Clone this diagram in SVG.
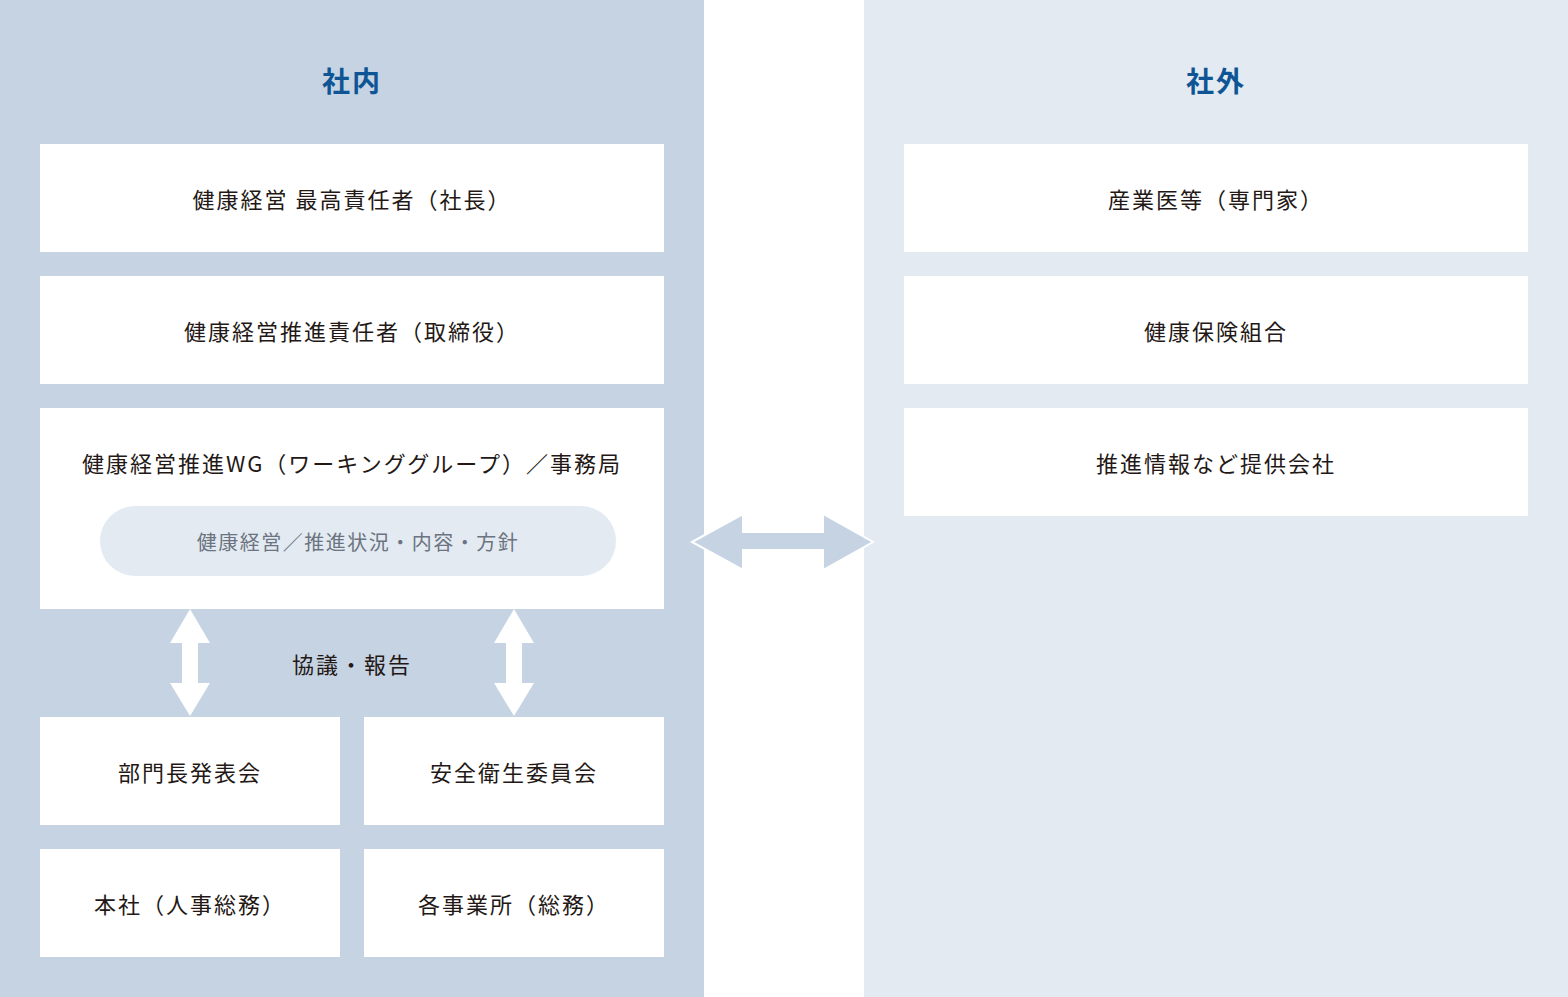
<svg xmlns="http://www.w3.org/2000/svg" width="1568" height="997" viewBox="0 0 1568 997">
<style>
text{font-family:"Noto Sans CJK JP","Noto Sans",sans-serif;text-anchor:middle;dominant-baseline:central}
.t{font-size:22px;fill:#231815;letter-spacing:2px}
.h{font-size:28px;fill:#0f5596;font-weight:bold;letter-spacing:2px}
.s{font-size:20px;fill:#6b7480;letter-spacing:1.5px}
.b{fill:#fff}
</style>
<rect width="1568" height="997" fill="#fff"/>
<rect x="0" y="0" width="704" height="997" fill="#c5d3e2"/>
<rect x="864" y="0" width="704" height="997" fill="#e3eaf2"/>
<text class="h" x="352" y="80">社内</text>
<text class="h" x="1216" y="80">社外</text>
<g id="n1"><rect class="b" x="40" y="144" width="624" height="108"/><text class="t" x="352" y="198">健康経営 最高責任者（社長）</text></g>
<g id="n2"><rect class="b" x="40" y="276" width="624" height="108"/><text class="t" x="352" y="330">健康経営推進責任者（取締役）</text></g>
<g id="n3"><rect class="b" x="40" y="408" width="624" height="201"/><text class="t" x="352" y="462">健康経営推進WG（ワーキンググループ）／事務局</text>
<rect x="100" y="506" width="516" height="70" rx="35" fill="#e3eaf2"/><text class="s" x="358" y="541">健康経営／推進状況・内容・方針</text></g>
<text class="t" x="352" y="663">協議・報告</text>
<g id="n4"><rect class="b" x="40" y="717" width="300" height="108"/><text class="t" x="190" y="771">部門長発表会</text></g>
<g id="n5"><rect class="b" x="364" y="717" width="300" height="108"/><text class="t" x="514" y="771">安全衛生委員会</text></g>
<g id="n6"><rect class="b" x="40" y="849" width="300" height="108"/><text class="t" x="190" y="903">本社（人事総務）</text></g>
<g id="n7"><rect class="b" x="364" y="849" width="300" height="108"/><text class="t" x="514" y="903">各事業所（総務）</text></g>
<g id="n8"><rect class="b" x="904" y="144" width="624" height="108"/><text class="t" x="1216" y="198">産業医等（専門家）</text></g>
<g id="n9"><rect class="b" x="904" y="276" width="624" height="108"/><text class="t" x="1216" y="330">健康保険組合</text></g>
<g id="n10"><rect class="b" x="904" y="408" width="624" height="108"/><text class="t" x="1216" y="462">推進情報など提供会社</text></g>
<g id="connectors">
<polygon points="190,609 210,643 198,643 198,683 210,683 190,716 170,683 182,683 182,643 170,643" fill="#fff"/>
<polygon points="514,609 534,643 522,643 522,683 534,683 514,716 494,683 506,683 506,643 494,643" fill="#fff"/>
<polygon points="692,542 743,514 743,532 823,532 823,514 873,542 823,570 823,550 743,550 743,570" fill="#c5d3e2" stroke="#fff" stroke-width="2"/>
</g>
</svg>
